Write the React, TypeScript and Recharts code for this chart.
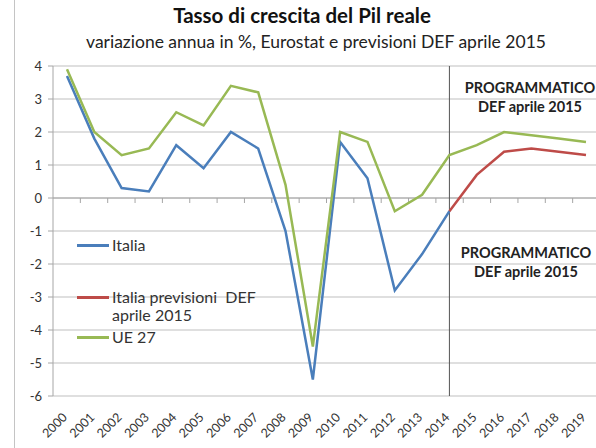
import React from 'react';
import { LineChart, Line, XAxis, YAxis, CartesianGrid, ReferenceLine, Legend } from 'recharts';

const years = ['2000', '2001', '2002', '2003', '2004', '2005', '2006', '2007', '2008', '2009',
  '2010', '2011', '2012', '2013', '2014', '2015', '2016', '2017', '2018', '2019'];
const italia = [3.7, 1.8, 0.3, 0.2, 1.6, 0.9, 2.0, 1.5, -1.0, -5.5, 1.7, 0.6, -2.8, -1.7, -0.4,
  null, null, null, null, null];
const italiaDef = [null, null, null, null, null, null, null, null, null, null, null, null, null, null, -0.4,
  0.7, 1.4, 1.5, 1.4, 1.3];
const ue27 = [3.9, 2.0, 1.3, 1.5, 2.6, 2.2, 3.4, 3.2, 0.4, -4.5, 2.0, 1.7, -0.4, 0.1, 1.3,
  1.6, 2.0, 1.9, 1.8, 1.7];
const yTicks = [-6, -5, -4, -3, -2, -1, 0, 1, 2, 3, 4];

const data = years.map((year, i) => ({
  year,
  italia: italia[i],
  italiaDef: italiaDef[i],
  ue27: ue27[i],
}));

const FONT = 'Lato, "Liberation Sans", sans-serif';
const BLUE = '#4a7ebb';
const RED = '#be4b48';
const GREEN = '#98b954';

// rotated year labels, ending just under each category
const YearTick = ({ x, y, payload }: any) => (
  <text
    x={x + 1}
    y={y + 14}
    transform={`rotate(-45, ${x + 1}, ${y + 14})`}
    textAnchor="end"
    fontSize={12.5}
    fill="#333"
    fontFamily={FONT}
  >
    {payload.value}
  </text>
);

const ValueTick = ({ x, y, payload }: any) => (
  <text x={x} y={y} dy={4.5} textAnchor="end" fontSize={13} fill="#333" fontFamily={FONT}>
    {payload.value}
  </text>
);

// category axis drawn at zero, with tick marks between the years
const ZeroAxis = ({ x1, x2, y1 }: any) => {
  const step = (x2 - x1) / years.length;
  return (
    <g>
      <line x1={x1} x2={x2} y1={y1} y2={y1} stroke="#a6a6a6" />
      {years.slice(1).map((_, i) => (
        <line key={i} x1={x1 + step * (i + 1)} x2={x1 + step * (i + 1)} y1={y1} y2={y1 + 5} stroke="#a6a6a6" />
      ))}
    </g>
  );
};

const legendItems = [
  { color: BLUE, lines: ['Italia'], gap: 34 },
  { color: RED, lines: ['Italia previsioni  DEF', 'aprile 2015'], gap: 4 },
  { color: GREEN, lines: ['UE 27'], gap: 0 },
];

const LegendBox = () => (
  <div style={{ fontFamily: FONT, fontSize: 16, color: '#333', lineHeight: '18px' }}>
    {legendItems.map((item, i) => (
      <div key={i} style={{ display: 'flex', alignItems: 'flex-start', marginBottom: item.gap }}>
        <div style={{ width: 32, height: 2.5, background: item.color, marginTop: 8, marginRight: 3 }} />
        <div>
          {item.lines.map((l, j) => (
            <div key={j} style={{ whiteSpace: 'pre' }}>{l}</div>
          ))}
        </div>
      </div>
    ))}
  </div>
);

const noteStyle: React.CSSProperties = {
  position: 'absolute',
  width: 150,
  textAlign: 'center',
  fontFamily: FONT,
  fontWeight: 700,
  fontSize: 14.5,
  color: '#222',
  lineHeight: '19px',
};

export default function App() {
  return (
    <div style={{ position: 'fixed', left: 0, top: 0, width: 596, height: 448, overflow: 'hidden', background: '#fff' }}>
      <div style={{ position: 'absolute', left: 14, top: 0, width: 1, height: 448, background: '#c4c4c4' }} />
      <div style={{ position: 'absolute', left: 0, top: 3, width: 604, textAlign: 'center', fontFamily: FONT, fontWeight: 700, fontSize: 20.5, color: '#111' }}>
        Tasso di crescita del Pil reale
      </div>
      <div style={{ position: 'absolute', left: 0, top: 31, width: 632, textAlign: 'center', fontFamily: FONT, fontSize: 17.5, color: '#222' }}>
        variazione annua in %, Eurostat e previsioni DEF aprile 2015
      </div>
      <div style={{ position: 'absolute', left: 0, top: 0 }}>
        <LineChart width={600} height={448} data={data} margin={{ top: 66, right: 0, bottom: 0, left: 0 }}>
          <CartesianGrid vertical={false} stroke="#bfbfbf" />
          <XAxis
            dataKey="year"
            axisLine={false}
            tickLine={false}
            tick={<YearTick />}
            height={52}
            interval={0}
            padding={{ left: 14, right: 14 }}
          />
          <YAxis
            domain={[-6, 4]}
            ticks={yTicks}
            width={53}
            axisLine={{ stroke: '#a6a6a6' }}
            tickLine={{ stroke: '#a6a6a6' }}
            tickSize={5}
            tickMargin={6}
            tick={<ValueTick />}
          />
          <ReferenceLine y={0} shape={(p: any) => <ZeroAxis {...p} />} />
          <ReferenceLine x="2014" stroke="#555" strokeWidth={1} />
          <Legend
            layout="vertical"
            align="center"
            verticalAlign="middle"
            wrapperStyle={{ left: 77, top: 236, width: 220 }}
            content={() => <LegendBox />}
          />
          <Line type="linear" dataKey="italia" stroke={BLUE} strokeWidth={2.5} dot={false} isAnimationActive={false} />
          <Line type="linear" dataKey="italiaDef" stroke={RED} strokeWidth={2.5} dot={false} isAnimationActive={false} />
          <Line type="linear" dataKey="ue27" stroke={GREEN} strokeWidth={2.5} dot={false} isAnimationActive={false} />
        </LineChart>
      </div>
      <div style={{ ...noteStyle, left: 455, top: 78 }}>PROGRAMMATICO<br />DEF aprile 2015</div>
      <div style={{ ...noteStyle, left: 451, top: 243 }}>PROGRAMMATICO<br />DEF aprile 2015</div>
    </div>
  );
}
